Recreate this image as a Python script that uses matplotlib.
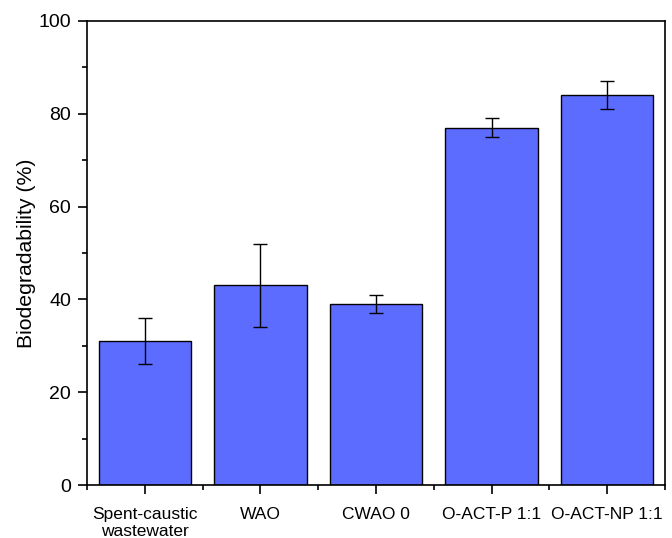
import numpy as np
import matplotlib.pyplot as plt
from matplotlib.ticker import MultipleLocator

plt.rcParams['font.family'] = ['Liberation Sans', 'DejaVu Sans']

# datos
categorias = ['Spent-caustic\nwastewater', 'WAO', 'CWAO 0', 'O-ACT-P 1:1', 'O-ACT-NP 1:1']
biodegradabilidad = [31, 43, 39, 77, 84]
errores = [5, 9, 2, 2, 3]

fig = plt.figure(figsize=(6.72, 5.38), dpi=100)
ax = fig.add_axes([0.1295, 0.0985, 0.8601, 0.8625])

x = np.arange(len(categorias))
ax.bar(x, biodegradabilidad, width=0.8, color='#5B6CFF', edgecolor='black', linewidth=1.0,
       yerr=errores, capsize=5, error_kw={'elinewidth': 1.0, 'capthick': 1.0, 'ecolor': 'black'})

ax.set_xlim(-0.5, 4.5)
ax.set_ylim(0, 100)
ax.set_xticks(x)
ax.set_xticklabels(categorias, fontsize=12.5, linespacing=1.2)
ax.xaxis.set_minor_locator(MultipleLocator(1, offset=0.5))
ax.yaxis.set_major_locator(MultipleLocator(20))
ax.yaxis.set_minor_locator(MultipleLocator(10))
ax.tick_params(axis='y', labelsize=14, pad=5)
ax.tick_params(which='major', direction='out', length=6.5, width=1.2)
ax.tick_params(which='minor', direction='out', length=3.5, width=1.2)
ax.tick_params(axis='x', which='major', pad=9)
for s in ax.spines.values():
    s.set_linewidth(1.2)

ax.set_ylabel('Biodegradability (%)', fontsize=15.3, labelpad=2)

plt.savefig('out.png', dpi=100)
